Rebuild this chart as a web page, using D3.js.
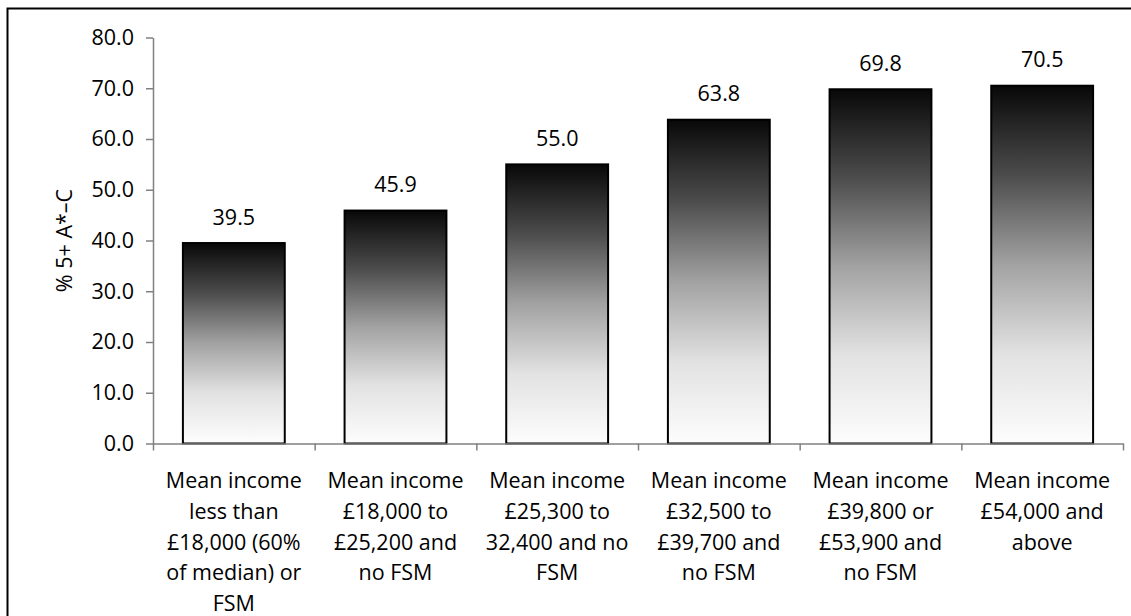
<!DOCTYPE html>
<html>
<head>
<meta charset="utf-8">
<script src="https://cdn.jsdelivr.net/npm/d3@7"></script>
<style>
  html, body { margin: 0; padding: 0; background: #fff; }
  svg { display: block; font-family: "Open Sans", sans-serif; }
</style>
</head>
<body>
<svg id="chart" width="1131" height="616"></svg>
<script>
const categories = [
  ["Mean income", "less than", "£18,000 (60%", "of median) or", "FSM"],
  ["Mean income", "£18,000 to", "£25,200 and", "no FSM"],
  ["Mean income", "£25,300 to", "32,400 and no", "FSM"],
  ["Mean income", "£32,500 to", "£39,700 and", "no FSM"],
  ["Mean income", "£39,800 or", "£53,900 and", "no FSM"],
  ["Mean income", "£54,000 and", "above"]
];
const values = [39.5, 45.9, 55.0, 63.8, 69.8, 70.5];
const yTicks = [0, 10, 20, 30, 40, 50, 60, 70, 80];
const yTitle = "% 5+ A*–C";

(function () {
const svg = d3.select("#chart");
const W = 1131, H = 616;
const mLeft = 153, mRight = 1123, mTop = 37.5, mBottom = 443.5;
const FS = 21.5;

// outer frame (clipped on right & bottom)
svg.append("path")
  .attr("d", `M7.5,${H + 5}V8.5H${W + 5}`)
  .attr("fill", "none").attr("stroke", "#000").attr("stroke-width", 2);

const defs = svg.append("defs");
const grad = defs.append("linearGradient").attr("id", "barGrad")
  .attr("x1", 0).attr("y1", 0).attr("x2", 0).attr("y2", 1);
[[0, "#080808"], [0.25, "#4c4c4c"], [0.5, "#a2a2a2"], [0.75, "#e2e2e2"], [1, "#fdfdfd"]]
  .forEach(([o, c]) => grad.append("stop").attr("offset", o).attr("stop-color", c));

const idx = values.map((d, i) => i);
const x = d3.scaleBand().domain(idx).range([mLeft, mRight]).paddingInner(0.37).paddingOuter(0.185);
const xb = d3.scaleLinear().domain([0, values.length]).range([mLeft, mRight]);
const y = d3.scaleLinear().domain([0, 80]).range([mBottom, mTop]);

// y axis
const yAxis = svg.append("g").attr("transform", `translate(${mLeft},0)`)
  .call(d3.axisLeft(y).tickValues(yTicks).tickFormat(d3.format(".1f")).tickSizeInner(7).tickSizeOuter(0).tickPadding(12));
yAxis.select(".domain").attr("stroke", "#808080").attr("stroke-width", 1.5);
yAxis.selectAll(".tick line").attr("stroke", "#808080").attr("stroke-width", 1.5);
yAxis.selectAll(".tick text").attr("font-size", FS).attr("fill", "#000").attr("font-family", "Open Sans");

// bars
svg.append("g").selectAll("rect").data(values).join("rect")
  .attr("x", (d, i) => x(i))
  .attr("y", d => y(d))
  .attr("width", x.bandwidth())
  .attr("height", d => y(0) - y(d))
  .attr("fill", "url(#barGrad)")
  .attr("stroke", "#000").attr("stroke-width", 2);

// x axis
const xAxis = svg.append("g").attr("transform", `translate(0,${mBottom})`)
  .call(d3.axisBottom(xb).tickValues(d3.range(values.length + 1)).tickFormat("").tickSizeInner(7).tickSizeOuter(0));
xAxis.select(".domain").attr("stroke", "#808080").attr("stroke-width", 1.5);
xAxis.selectAll(".tick line").attr("stroke", "#808080").attr("stroke-width", 1.5);

// value labels
svg.append("g").selectAll("text").data(values).join("text")
  .attr("x", (d, i) => x(i) + x.bandwidth() / 2)
  .attr("y", d => y(d) - 18.5)
  .attr("text-anchor", "middle")
  .attr("font-size", FS)
  .text(d => d3.format(".1f")(d));

// category labels
const cl = svg.append("g").selectAll("text").data(categories).join("text")
  .attr("text-anchor", "middle")
  .attr("font-size", FS)
  .attr("x", (d, i) => x(i) + x.bandwidth() / 2)
  .attr("y", 488);
cl.selectAll("tspan").data(d => d).join("tspan")
  .attr("x", function () { return d3.select(this.parentNode).attr("x"); })
  .attr("dy", (d, i) => i === 0 ? 0 : 30.8)
  .text(d => d);

// y title
svg.append("text")
  .attr("transform", `translate(72,${(mTop + mBottom) / 2}) rotate(-90)`)
  .attr("text-anchor", "middle")
  .attr("font-size", FS)
  .text(yTitle);
})();
</script>
</body>
</html>
